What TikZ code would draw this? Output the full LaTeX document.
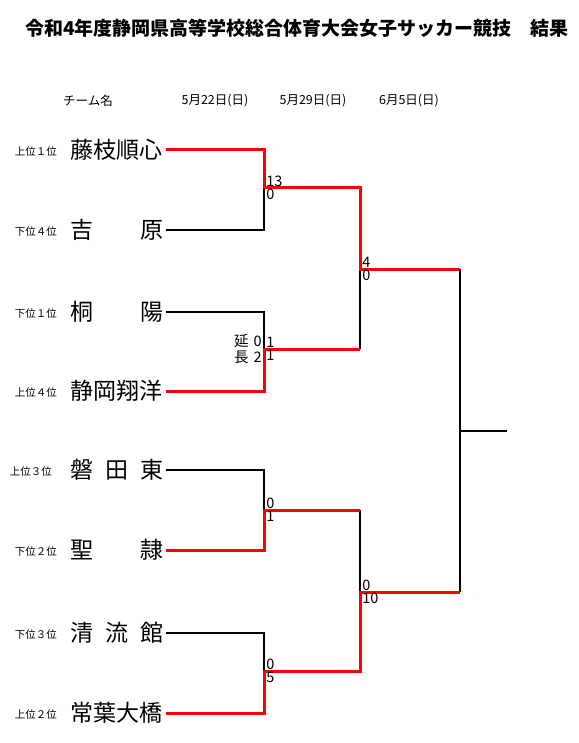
\documentclass[tikz,border=0pt]{standalone}
\usepackage{fontspec}
\setmainfont{Noto Sans CJK JP}
\usepackage{tikz}
\usetikzlibrary{positioning}
\definecolor{winred}{RGB}{255,0,0}
\newcommand{\teamname}[1]{\makebox[94pt][s]{#1}}

\begin{document}
\begin{tikzpicture}[
  x=1pt, y=-1pt,
  title/.style={font=\fontsize{19}{19}\selectfont\bfseries, inner sep=0pt},
  hdr/.style={font=\fontsize{12.5}{12.5}\selectfont, inner sep=0pt},
  team/.style={anchor=east, inner sep=0pt, outer sep=2pt, font=\fontsize{23}{23}\selectfont},
  rank/.style={inner sep=0pt, yshift=-2pt, font=\fontsize{10.5}{10.5}\selectfont},
  score/.style={inner sep=1.2pt, font=\fontsize{14.5}{14.5}\selectfont},
  lose/.style={draw=black, line width=2pt},
  win/.style={draw=winred, line width=3pt}
]
\useasboundingbox (0,0) rectangle (578,743);

% heading and round dates
\node[title] (ttl) at (297,28) {令和4年度静岡県高等学校総合体育大会女子サッカー競技　結果};
\node[hdr] (hteam) at (88,101) {チーム名};
\node[hdr] (hday1) at (215,101) {5月22日(日)};
\node[hdr] (hday2) at (313,101) {5月29日(日)};
\node[hdr] (hday3) at (409,101) {6月5日(日)};

% teams, top to bottom
\node[team] (t1) at (166,150) {\teamname{藤枝順心}};
\node[team] (t2) at (166,230) {\teamname{吉\hfill 原}};
\node[team] (t3) at (166,312) {\teamname{桐\hfill 陽}};
\node[team] (t4) at (166,391) {\teamname{静岡翔洋}};
\node[team] (t5) at (166,470) {\teamname{磐\hfill 田\hfill 東}};
\node[team] (t6) at (166,550) {\teamname{聖\hfill 隷}};
\node[team] (t7) at (166,633) {\teamname{清\hfill 流\hfill 館}};
\node[team] (t8) at (166,713) {\teamname{常葉大橋}};

\node[rank, left=11pt of t1] (r1) {上位１位};
\node[rank, left=11pt of t2] (r2) {下位４位};
\node[rank, left=11pt of t3] (r3) {下位１位};
\node[rank, left=11pt of t4] (r4) {上位４位};
\node[rank, left=16pt of t5] (r5) {上位３位};
\node[rank, left=11pt of t6] (r6) {下位２位};
\node[rank, left=11pt of t7] (r7) {下位３位};
\node[rank, left=11pt of t8] (r8) {上位２位};

% junctions of the bracket
\coordinate (m1) at (264,188);
\coordinate (m2) at (264,349);
\coordinate (m3) at (264,510);
\coordinate (m4) at (264,671);
\coordinate (s1) at (360,269);
\coordinate (s2) at (360,592);
\coordinate (f) at (460,431);
\coordinate (champ) at (507,431);

% losing sides first, winners drawn over them
\draw[lose] (t2.east) -| (m1);
\draw[lose] (t3.east) -| (m2);
\draw[lose] (t5.east) -| (m3);
\draw[lose] (t7.east) -| (m4);
\draw[lose] (m2 -| s1) -- (s1);
\draw[lose] (m3 -| s2) -- (s2);
\draw[lose] (s1 -| f) -- (s2 -| f);
\draw[lose] (f) -- (champ);

\draw[win] (t1.east) -| (m1) -- (m1 -| s1) -- (s1) -- (s1 -| f);
\draw[win] (t4.east) -| (m2) -- (m2 -| s1);
\draw[win] (t6.east) -| (m3) -- (m3 -| s2);
\draw[win] (t8.east) -| (m4) -- (m4 -| s2) -- (s2) -- (s2 -| f);

% scores
\node[score, above right=0pt and 1pt of m1] (sc1a) {13};
\node[score, below right=0pt and 1pt of m1] (sc1b) {0};
\node[score, above right=0pt and 1pt of m2] (sc2a) {1};
\node[score, below right=0pt and 1pt of m2] (sc2b) {1};
\node[score, above left=0pt and 1pt of m2] (ex2a) {延\hspace{5pt}0};
\node[score, below left=0pt and 1pt of m2] (ex2b) {長\hspace{5pt}2};
\node[score, above right=0pt and 1pt of m3] (sc3a) {0};
\node[score, below right=0pt and 1pt of m3] (sc3b) {1};
\node[score, above right=0pt and 1pt of m4] (sc4a) {0};
\node[score, below right=0pt and 1pt of m4] (sc4b) {5};
\node[score, above right=0pt and 1pt of s1] (sc5a) {4};
\node[score, below right=0pt and 1pt of s1] (sc5b) {0};
\node[score, above right=0pt and 1pt of s2] (sc6a) {0};
\node[score, below right=0pt and 1pt of s2] (sc6b) {10};
\end{tikzpicture}
\end{document}
